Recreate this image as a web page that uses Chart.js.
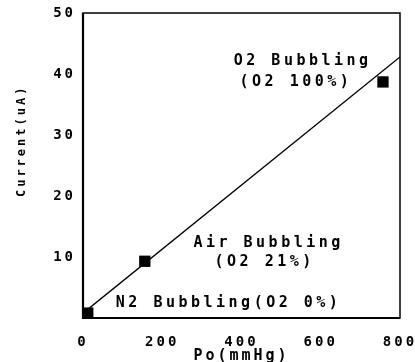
<!DOCTYPE html>
<html>
<head>
<meta charset="utf-8">
<script src="https://cdn.jsdelivr.net/npm/chart.js@4/dist/chart.umd.min.js"></script>
<style>
  html, body { margin: 0; padding: 0; background: #fff; }
  #wrap { width: 415px; height: 362px; position: relative; }
</style>
</head>
<body>
<div id="wrap"><canvas id="c"></canvas></div>
<script>
// ---- data ----
const poValues = [12, 156, 757];          // Po (mmHg)
const currentValues = [0.8, 9.3, 38.7];   // Current (uA)
const fitPo = [0, 800];
const fitCurrent = [0.8, 42.8];
const xTickValues = [0, 200, 400, 600, 800];
const yTickValues = [10, 20, 30, 40, 50];
const xTitle = 'Po(mmHg)';
const yTitle = 'Current(uA)';
const noteTexts = ['O2 Bubbling', '(O2 100%)', 'Air Bubbling', '(O2 21%)', 'N2 Bubbling(O2 0%)'];
const noteX = [550, 533, 464, 454, 363];
const noteY = [42.1, 38.7, 12.3, 9.2, 2.5];

const FONT = "'DejaVu Sans Mono', monospace";
const AXIS_LS = 3;
const NOTE_LS = 3.5;

const spacingPlugin = {
  id: 'spacing',
  beforeDraw(chart) {
    chart.ctx.letterSpacing = AXIS_LS + 'px';
  }
};

const framePlugin = {
  id: 'frame',
  afterDatasetsDraw(chart) {
    const { ctx, chartArea: a } = chart;
    ctx.save();
    ctx.strokeStyle = '#000';
    ctx.lineWidth = 1.5;
    ctx.strokeRect(a.left, a.top, a.right - a.left, a.bottom - a.top);
    ctx.lineWidth = 2.2;
    ctx.beginPath();
    ctx.moveTo(a.left, a.top);
    ctx.lineTo(a.left, a.bottom);
    ctx.lineTo(a.right, a.bottom);
    ctx.stroke();
    ctx.restore();
  }
};

const notesPlugin = {
  id: 'notes',
  afterDraw(chart) {
    const { ctx } = chart;
    const xs = chart.scales.x, ys = chart.scales.y;
    ctx.save();
    ctx.letterSpacing = NOTE_LS + 'px';
    ctx.font = "bold 15px " + FONT;
    ctx.fillStyle = '#000';
    ctx.textAlign = 'center';
    ctx.textBaseline = 'middle';
    noteTexts.forEach((t, i) => {
      ctx.fillText(t, xs.getPixelForValue(noteX[i]) + NOTE_LS / 2, ys.getPixelForValue(noteY[i]));
    });
    // y-axis title (placed above the axis centre, as in the reference)
    ctx.font = "bold 12px " + FONT;
    ctx.letterSpacing = '3px';
    ctx.translate(22, ys.getPixelForValue(28.8));
    ctx.rotate(-Math.PI / 2);
    ctx.fillText(yTitle, 1.5, 0);
    ctx.restore();
  }
};

new Chart(document.getElementById('c'), {
  type: 'scatter',
  data: {
    datasets: [
      {
        label: 'fit',
        data: fitPo.map((x, i) => ({ x, y: fitCurrent[i] })),
        showLine: true,
        borderColor: '#000',
        borderWidth: 1.4,
        pointRadius: 0,
        fill: false
      },
      {
        label: 'measured',
        data: poValues.map((x, i) => ({ x, y: currentValues[i] })),
        pointStyle: 'rect',
        pointRadius: 8,
        pointHoverRadius: 8,
        backgroundColor: '#000',
        borderColor: '#000',
        borderWidth: 0,
        clip: false
      }
    ]
  },
  options: {
    responsive: true,
    maintainAspectRatio: false,
    animation: false,
    events: [],
    layout: { padding: { top: 13, right: 15, left: 0, bottom: 0 } },
    plugins: { legend: { display: false }, tooltip: { enabled: false } },
    scales: {
      x: {
        type: 'linear',
        min: 0, max: 800,
        afterFit(s) { s.height = 44; s.paddingLeft = 0; s.paddingRight = 0; },
        afterBuildTicks(s) { s.ticks = xTickValues.map(v => ({ value: v })); },
        grid: { display: false, drawTicks: false },
        border: { display: false },
        ticks: {
          color: '#000',
          padding: 16,
          maxRotation: 0,
          font: { family: FONT, size: 14, weight: 'bold' }
        },
        title: {
          display: true,
          text: xTitle,
          color: '#000',
          padding: { top: 0, bottom: -3 },
          font: { family: FONT, size: 15, weight: 'bold' }
        }
      },
      y: {
        type: 'linear',
        min: 0, max: 50,
        afterFit(s) { s.width = 83; s.paddingTop = 0; s.paddingBottom = 0; },
        afterBuildTicks(s) { s.ticks = yTickValues.map(v => ({ value: v })); },
        grid: { display: false, drawTicks: false },
        border: { display: false },
        ticks: {
          color: '#000',
          padding: 7,
          font: { family: FONT, size: 14, weight: 'bold' }
        },
        title: { display: false }
      }
    }
  },
  plugins: [spacingPlugin, framePlugin, notesPlugin]
});
</script>
</body>
</html>
